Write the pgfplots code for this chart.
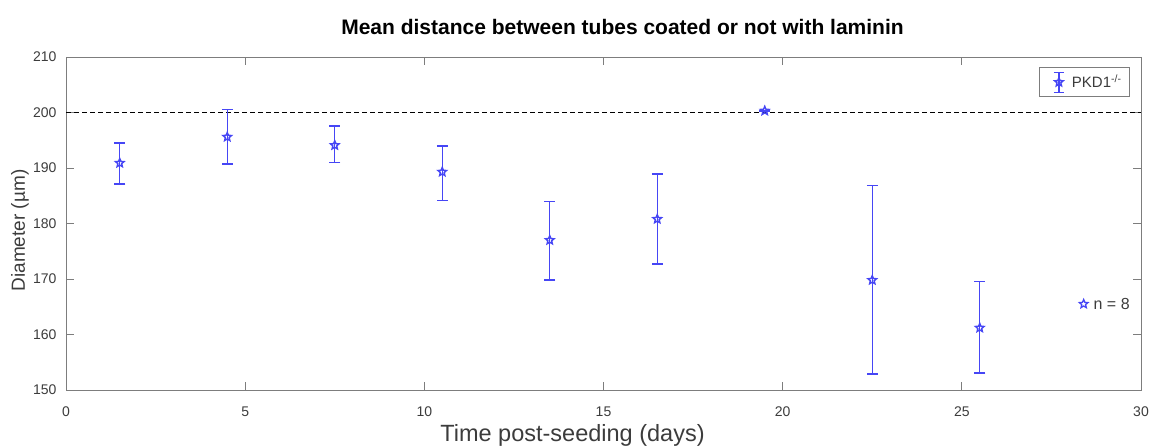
\documentclass[border=0pt]{standalone}
\usepackage{pgfplots}
\pgfplotsset{compat=1.18}
\usepackage{pgfplotstable}
\usepackage{fontspec}
\setmainfont{Liberation Sans}
\definecolor{mblue}{RGB}{70,70,245}
\definecolor{axgray}{RGB}{125,125,125}
\definecolor{txtgray}{RGB}{60,60,60}
\pgfdeclareplotmark{pstar}{%
 \pgfpathmoveto{\pgfpointpolar{90}{\pgfplotmarksize}}%
 \pgfpathlineto{\pgfpointpolar{126}{0.45\pgfplotmarksize}}%
 \pgfpathlineto{\pgfpointpolar{162}{\pgfplotmarksize}}%
 \pgfpathlineto{\pgfpointpolar{198}{0.45\pgfplotmarksize}}%
 \pgfpathlineto{\pgfpointpolar{234}{\pgfplotmarksize}}%
 \pgfpathlineto{\pgfpointpolar{270}{0.45\pgfplotmarksize}}%
 \pgfpathlineto{\pgfpointpolar{306}{\pgfplotmarksize}}%
 \pgfpathlineto{\pgfpointpolar{342}{0.45\pgfplotmarksize}}%
 \pgfpathlineto{\pgfpointpolar{18}{\pgfplotmarksize}}%
 \pgfpathlineto{\pgfpointpolar{54}{0.45\pgfplotmarksize}}%
 \pgfpathclose\pgfusepathqstroke}
\pgfplotstableread{
x y top bot
1.5 190.9 194.5 187.1
4.5 195.6 200.5 190.7
7.5 194.1 197.6 191.0
10.5 189.3 194.0 184.1
13.5 177.0 184.0 169.8
16.5 180.8 188.9 172.7
19.5 200.3 200.3 200.3
22.5 169.8 186.9 152.9
25.5 161.2 169.6 153.1
}\datatable
\begin{document}
\begin{tikzpicture}
\begin{axis}[
  scale only axis,
  width=1075pt, height=333pt,
  xmin=0, xmax=30, ymin=150, ymax=210,
  xtick={0,5,...,30}, ytick={150,160,...,210},
  tick align=inside,
  major tick length=8pt,
  axis line style={axgray, line width=1pt},
  every tick/.style={axgray, line width=1pt},
  tick label style={font=\fontsize{14}{16}\selectfont, text=txtgray},
  xticklabel style={yshift=-13pt},
  yticklabel style={xshift=-6pt},
  /pgf/number format/assume math mode=true,
  title={\bfseries Mean distance between tubes coated or not with laminin},
  title style={font=\fontsize{21}{24}\selectfont, at={(axis description cs:0.5,1)}, anchor=base, yshift=17pt, xshift=19pt},
  xlabel={Time post-seeding (days)},
  ylabel={Diameter (µm)},
  xlabel style={font=\fontsize{23.5}{26}\selectfont, text=txtgray, at={(axis description cs:0.5,0)}, anchor=base, yshift=-51pt, xshift=-31pt},
  ylabel style={font=\fontsize{19}{22}\selectfont, text=txtgray, at={(axis description cs:0,0.5)}, anchor=center, yshift=46pt, xshift=-7pt},
  legend style={at={(rel axis cs:1,1)}, anchor=north east, xshift=-11pt, yshift=-10pt,
    draw=axgray, line width=1pt,
    font=\fontsize{15}{17}\selectfont, inner xsep=6pt, inner ysep=4pt, text=txtgray},
  legend cell align=left,
  legend image code/.code={
    \path[draw=none] (0pt,0pt) -- (24pt,0pt);
    \draw[mblue, line width=1.4pt] (13pt,-10pt) -- (13pt,10pt);
    \draw[mblue, line width=1.4pt] (8pt,10pt) -- (18pt,10pt);
    \draw[mblue, line width=1.4pt] (8pt,-10pt) -- (18pt,-10pt);
    \draw[mblue, line width=1.4pt] plot[mark=pstar, mark size=4.5pt] coordinates {(13pt,0pt)};
  },
]
\coordinate (bl) at (rel axis cs:0,0);
\coordinate (tr) at (rel axis cs:1,1);
\addplot[black, line width=1.4pt, forget plot, dash pattern=on 5pt off 3pt] coordinates {(0,200) (30,200)};
\addplot[mblue, only marks, mark=pstar, mark size=4.5pt, line width=1.4pt,
  error bars/.cd, y dir=both, y explicit, error mark=-, error bar style={mblue, line width=1.4pt},
  error mark options={mblue, mark size=5.5pt, line width=1.4pt, rotate=90}]
  table[x=x, y=y, y error plus expr=\thisrow{top}-\thisrow{y}, y error minus expr=\thisrow{y}-\thisrow{bot}] {\datatable};
\addlegendentry{PKD1\textsuperscript{-/-}}
\addplot[mblue, only marks, mark=pstar, mark size=4.5pt, line width=1.3pt, forget plot]
  coordinates {(28.4,165.5)} node[right, txtgray, font=\fontsize{16}{18}\selectfont, xshift=6pt] {n = 8};
\end{axis}
\pgfresetboundingbox
\path ([xshift=-66pt,yshift=-57pt]bl) rectangle ([xshift=10pt,yshift=57pt]tr);
\end{tikzpicture}
\end{document}
